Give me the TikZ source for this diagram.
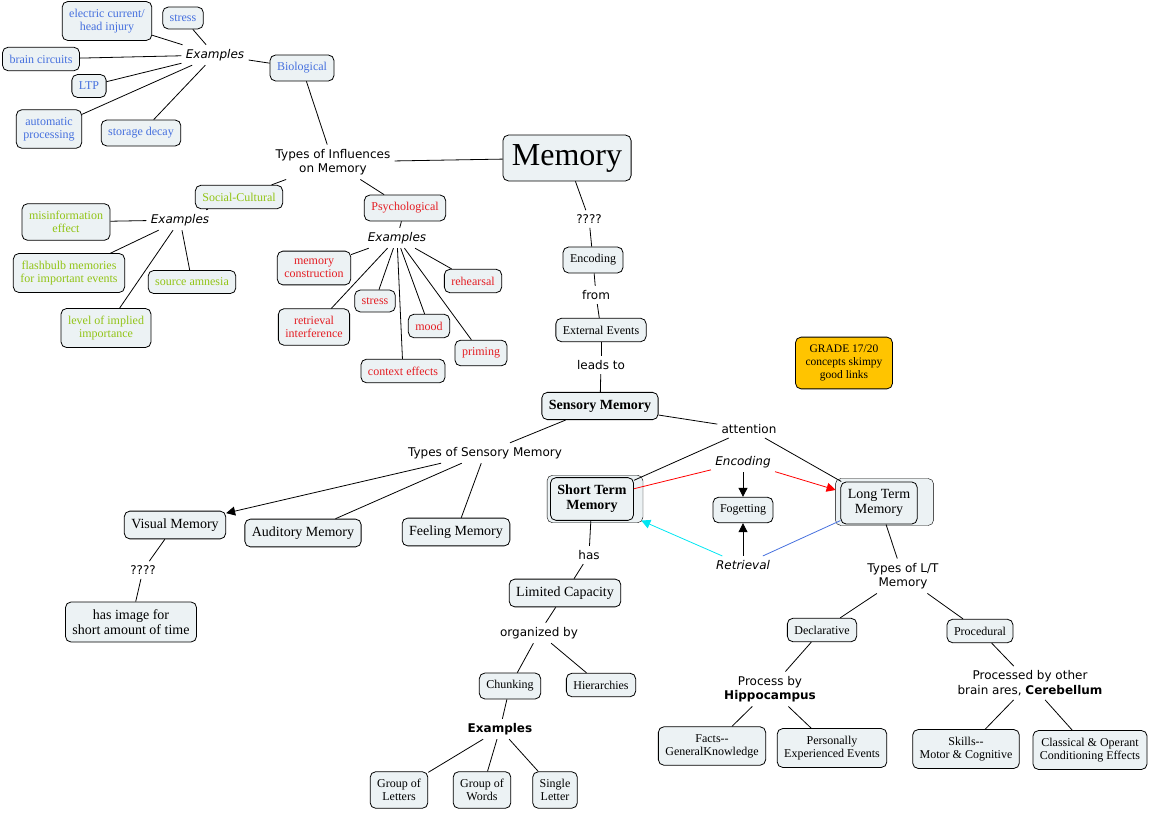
\documentclass[tikz,border=0pt]{standalone}
\usepackage{fontspec}
\setmainfont{Liberation Serif}
\newfontfamily\linkfont{DejaVu Sans}
\usepackage{tikz}
\usetikzlibrary{calc, backgrounds, arrows.meta}
\definecolor{boxfill}{RGB}{236,242,244}
\definecolor{bioblue}{RGB}{70,112,222}
\definecolor{socgreen}{RGB}{146,196,22}
\definecolor{psyred}{RGB}{228,30,36}
\definecolor{gradegold}{RGB}{255,196,0}
\definecolor{retcyan}{RGB}{0,230,242}
\tikzset{concept/.style={draw=black, fill=boxfill, rounded corners=5.5pt, align=center, inner xsep=7pt, inner ysep=7.5pt, font=\fontsize{12}{13}\selectfont},
    bigconcept/.style={concept, font=\fontsize{14}{15}\selectfont},
    bio/.style={concept, text=bioblue}, soc/.style={concept, text=socgreen}, psy/.style={concept, text=psyred},
    linkword/.style={align=center, inner sep=4pt, font=\linkfont\fontsize{12}{14.5}\selectfont},
    linkit/.style={linkword, font=\linkfont\itshape\fontsize{12}{14.5}\selectfont},
    shell/.style={draw=black, fill=boxfill, rounded corners=5.5pt},
    arrowed/.style={-{Triangle[length=9pt, width=9pt]}}}

\begin{document}
\begin{tikzpicture}[x=1pt, y=-1pt, line width=0.8pt]
                 \useasboundingbox (0,0) rectangle (1150,813);

                 \node[bio] (elec) at (107,21) {electric current/\\head injury};
                 \node[bio] (stressb) at (183,18) {stress};
                 \node[bio] (circuits) at (41,59) {brain circuits};
                 \node[bio] (ltp) at (89,86) {LTP};
                 \node[bio] (automatic) at (49,129) {automatic\\processing};
                 \node[bio] (decay) at (141,133) {storage decay};
                 \node[linkit] (exbio) at (215,55) {Examples};
                 \node[bio] (biological) at (302,68) {Biological};

                 \node[linkword] (influences) at (333,162) {Types of Influences\\on Memory};
                 \node[concept, font=\fontsize{32}{36}\selectfont, inner xsep=9pt, inner ysep=9pt] (memory) at (567,158) {Memory};

                 \node[soc] (social) at (239,197) {Social-Cultural};
                 \node[linkit] (exsoc) at (180,220) {Examples};
                 \node[soc] (misinfo) at (66,222) {misinformation\\effect};
                 \node[soc] (flashbulb) at (69,273) {flashbulb memories\\for important events};
                 \node[soc] (amnesia) at (192,282) {source amnesia};
                 \node[soc] (implied) at (106,328) {level of implied\\importance};

                 \node[psy] (psych) at (405,208) {Psychological};
                 \node[linkit] (expsy) at (397,238) {Examples};
                 \node[psy] (construction) at (314,268) {memory\\construction};
                 \node[psy] (stressp) at (375,301) {stress};
                 \node[psy] (interference) at (314,327) {retrieval\\interference};
                 \node[psy] (mood) at (429,326) {mood};
                 \node[psy] (context) at (403,371) {context effects};
                 \node[psy] (priming) at (481,353) {priming};
                 \node[psy] (rehearsal) at (473,281) {rehearsal};

                 \node[linkword] (qmem) at (589,219) {????};
                 \node[concept] (encoding) at (593,260) {Encoding};
                 \node[linkword] (from) at (596,295) {from};
                 \node[concept] (external) at (601,330) {External Events};
                 \node[linkword] (leads) at (601,365) {leads to};
                 \node[bigconcept, font=\fontsize{14}{15}\selectfont\bfseries] (sensory) at (600,406) {Sensory Memory};
                 \node[concept, fill=gradegold, inner xsep=10pt, font=\fontsize{11.5}{13.3}\selectfont] (grade) at (844,363) {GRADE 17/20\\concepts skimpy\\good links};

                 \node[linkword] (attention) at (749,429) {attention};
                 \node[linkword] (sensetypes) at (485,453) {Types of Sensory Memory};
                 \node[bigconcept] (visual) at (175,525) {Visual Memory};
                 \node[bigconcept] (auditory) at (303,533) {Auditory Memory};
                 \node[bigconcept] (feeling) at (456,532) {Feeling Memory};
                 \node[linkword] (qvis) at (143,570) {????};
                 \node[bigconcept] (image) at (131,622) {has image for\\short amount of time};

                 \node[bigconcept, font=\fontsize{14}{15}\selectfont\bfseries] (stm) at (592,499) {Short Term\\Memory};
                 \node[bigconcept] (ltm) at (879,503) {Long Term\\Memory};
                 \node[linkit] (encode) at (743,462) {Encoding};
                 \node[concept] (forget) at (743,510) {Fogetting};
                 \node[linkit] (retrieve) at (743,565) {Retrieval};

                 \node[linkword] (has) at (589,555) {has};
                 \node[bigconcept] (capacity) at (565,593) {Limited Capacity};
                 \node[linkword] (organized) at (539,633) {organized by};
                 \node[concept] (chunking) at (510,686) {Chunking};
                 \node[concept] (hierarchies) at (601,685) {Hierarchies};
                 \node[linkword, font=\linkfont\bfseries\fontsize{12}{14.5}\selectfont] (exchunk) at (500,729) {Examples};
                 \node[concept] (letters) at (399,790) {Group of\\Letters};
                 \node[concept] (words) at (482,790) {Group of\\Words};
                 \node[concept] (single) at (555,790) {Single\\Letter};

                 \node[linkword] (lttypes) at (903,576) {Types of L/T\\Memory};
                 \node[concept] (declarative) at (822,630) {Declarative};
                 \node[concept] (procedural) at (980,631) {Procedural};
                 \node[linkword] (hippo) at (770,689) {Process by\\\textbf{Hippocampus}};
                 \node[linkword] (cerebellum) at (1030,683) {Processed by other\\brain ares, \textbf{Cerebellum}};
                 \node[concept] (facts) at (712,746) {Facts-\kern0pt-\\GeneralKnowledge};
                 \node[concept] (episodes) at (832,748) {Personally\\Experienced Events};
                 \node[concept] (skills) at (966,749) {Skills-\kern0pt-\\Motor \& Cognitive};
                 \node[concept] (conditioning) at (1090,750) {Classical \& Operant\\Conditioning Effects};

                 \begin{scope}[on background layer]
                 \draw[shell] ($(stm.south west)+(-3pt,-2pt)$) rectangle ($(stm.north east)+(9pt,2pt)$);
                 \draw[shell] ($(ltm.south west)+(-5pt,-1pt)$) rectangle ($(ltm.north east)+(16pt,3pt)$);
                 \end{scope}

                 \draw (elec) -- (exbio);
                 \draw (stressb) -- (exbio);
                 \draw (circuits) -- (exbio);
                 \draw (ltp) -- (exbio);
                 \draw (automatic) -- (exbio);
                 \draw (decay) -- (exbio);
                 \draw (exbio) -- (biological);
                 \draw (biological) -- (influences);
                 \draw (influences) -- (memory);

                 \draw (influences) -- (social);
                 \draw (social) -- (exsoc);
                 \draw (exsoc) -- (misinfo);
                 \draw (exsoc) -- (flashbulb);
                 \draw (exsoc) -- (amnesia);
                 \draw (exsoc) -- (implied);

                 \draw (influences) -- (psych);
                 \draw (psych) -- (expsy);
                 \draw (expsy) -- (construction);
                 \draw (expsy) -- (stressp);
                 \draw (expsy) -- (interference);
                 \draw (expsy) -- (mood);
                 \draw (expsy) -- (context);
                 \draw (expsy) -- (priming);
                 \draw (expsy) -- (rehearsal);

                 \draw (memory) -- (qmem);
                 \draw (qmem) -- (encoding);
                 \draw (encoding) -- (from);
                 \draw (from) -- (external);
                 \draw (external) -- (leads);
                 \draw (leads) -- (sensory);

                 \draw (sensory) -- (sensetypes);
                 \draw[arrowed] (sensetypes) -- (visual);
                 \draw (sensetypes) -- (auditory);
                 \draw (sensetypes) -- (feeling);
                 \draw (visual) -- (qvis);
                 \draw (qvis) -- (image);

                 \draw (sensory) -- (attention);
                 \draw (attention) -- (stm);
                 \draw (attention) -- (ltm);
                 \draw[red] (stm) -- (encode);
                 \draw[red, arrowed, shorten >=5pt] (encode) -- (ltm);
                 \draw[arrowed] (encode) -- (forget);
                 \draw[arrowed] (retrieve) -- (forget);
                 \draw[bioblue] (ltm) -- (retrieve);
                 \draw[retcyan, arrowed, shorten >=8pt] (retrieve) -- (stm);

                 \draw (stm) -- (has);
                 \draw (has) -- (capacity);
                 \draw (capacity) -- (organized);
                 \draw (organized) -- (chunking);
                 \draw (organized) -- (hierarchies);
                 \draw (chunking) -- (exchunk);
                 \draw (exchunk) -- (letters);
                 \draw (exchunk) -- (words);
                 \draw (exchunk) -- (single);

                 \draw (ltm) -- (lttypes);
                 \draw (lttypes) -- (declarative);
                 \draw (lttypes) -- (procedural);
                 \draw (declarative) -- (hippo);
                 \draw (hippo) -- (facts);
                 \draw (hippo) -- (episodes);
                 \draw (procedural) -- (cerebellum);
                 \draw (cerebellum) -- (skills);
                 \draw (cerebellum) -- (conditioning);

\end{tikzpicture}
\end{document}
